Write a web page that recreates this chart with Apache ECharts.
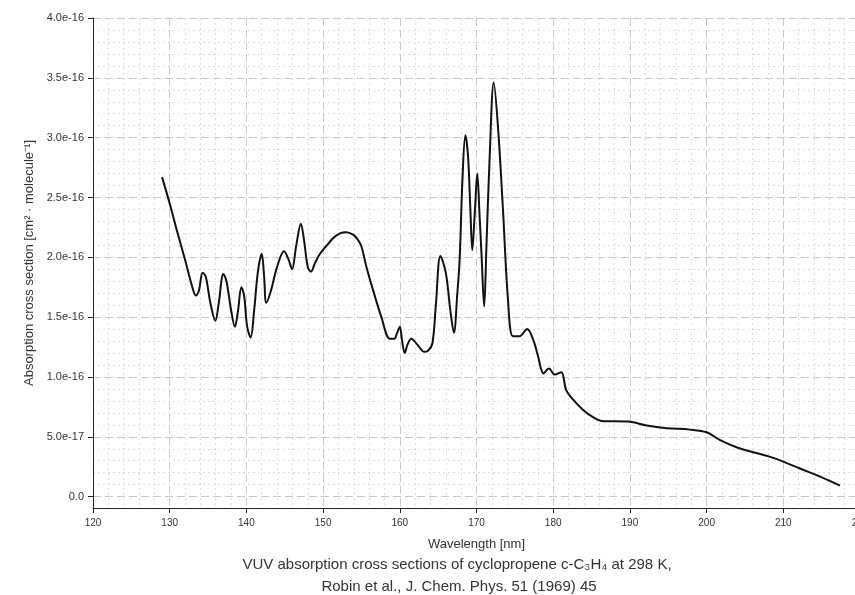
<!DOCTYPE html>
<html>
<head>
<meta charset="utf-8">
<script src="https://cdn.jsdelivr.net/npm/echarts@6/dist/echarts.min.js"></script>
<style>
html,body{margin:0;padding:0;background:#fff;}
#chart{width:855px;height:595px;}
</style>
</head>
<body>
<div id="chart"></div>
<script>
// Wavelength [nm]
const wavelengths = [
  129.0, 130.0, 131.0, 132.0, 133.0, 133.4, 133.8, 134.3, 134.7, 135.3,
  135.95, 136.4, 137.0, 137.4, 138.0, 138.5, 138.9, 139.35, 139.7, 140.1,
  140.55, 141.0, 141.5, 142.0, 142.3, 142.6, 143.2, 144.0, 144.9, 145.5,
  145.95, 146.5, 147.1, 147.5, 148.0, 148.4, 149.0, 149.6, 150.5, 151.3,
  152.2, 153.0, 153.9, 154.5, 155.0, 155.65, 156.5, 157.6, 158.7, 159.3,
  159.6, 160.0, 160.3, 160.65, 161.0, 161.5, 162.3, 163.2, 163.7, 164.25,
  164.7, 165.3, 166.0, 166.6, 167.05, 167.5, 167.8, 168.2, 168.55, 168.9,
  169.2, 169.45, 169.8, 170.1, 170.4, 170.65, 171.0, 171.3, 171.7, 172.25,
  172.8, 173.45, 174.1, 174.75, 175.6, 176.6, 177.4, 178.0, 178.75, 179.45,
  180.2, 181.05, 181.7, 182.6, 183.9, 185.2, 186.3, 189.8, 192.2, 194.8,
  197.8, 200.0, 201.7, 203.9, 206.1, 208.2, 210.0, 212.1, 214.8, 217.4
];
// Absorption cross section [cm^2 molecule^-1]
const crossSections = [
  2.67e-16, 2.45e-16, 2.21e-16, 1.98e-16, 1.74e-16, 1.68e-16, 1.72e-16, 1.87e-16, 1.84e-16, 1.62e-16,
  1.47e-16, 1.62e-16, 1.86e-16, 1.80e-16, 1.56e-16, 1.42e-16, 1.55e-16, 1.75e-16, 1.68e-16, 1.42e-16,
  1.33e-16, 1.55e-16, 1.88e-16, 2.03e-16, 1.85e-16, 1.62e-16, 1.72e-16, 1.92e-16, 2.05e-16, 1.98e-16,
  1.90e-16, 2.10e-16, 2.28e-16, 2.15e-16, 1.92e-16, 1.88e-16, 1.96e-16, 2.03e-16, 2.10e-16, 2.16e-16,
  2.20e-16, 2.21e-16, 2.19e-16, 2.15e-16, 2.09e-16, 1.92e-16, 1.73e-16, 1.50e-16, 1.32e-16, 1.32e-16,
  1.36e-16, 1.42e-16, 1.30e-16, 1.20e-16, 1.27e-16, 1.32e-16, 1.27e-16, 1.21e-16, 1.22e-16, 1.28e-16,
  1.60e-16, 2.01e-16, 1.87e-16, 1.55e-16, 1.37e-16, 1.70e-16, 1.98e-16, 2.70e-16, 3.02e-16, 2.84e-16,
  2.40e-16, 2.06e-16, 2.40e-16, 2.70e-16, 2.35e-16, 2.03e-16, 1.59e-16, 2.10e-16, 2.81e-16, 3.46e-16,
  3.09e-16, 2.40e-16, 1.65e-16, 1.34e-16, 1.34e-16, 1.40e-16, 1.31e-16, 1.18e-16, 1.03e-16, 1.07e-16,
  1.02e-16, 1.04e-16, 0.89e-16, 0.81e-16, 0.725e-16, 0.664e-16, 0.633e-16, 0.627e-16, 0.594e-16, 0.572e-16,
  0.560e-16, 0.538e-16, 0.474e-16, 0.413e-16, 0.371e-16, 0.334e-16, 0.293e-16, 0.237e-16, 0.167e-16, 0.092e-16
];
const xAxisName = 'Wavelength [nm]';
const yAxisName = 'Absorption cross section [cm\u00B2 \u00B7 molecule\u207B\u00B9]';
const captionLines = [
  'VUV absorption cross sections of cyclopropene c-C\u2083H\u2084 at 298 K,',
  'Robin et al., J. Chem. Phys. 51 (1969) 45'
];

const seriesData = wavelengths.map((w, i) => [w, crossSections[i]]);

const FONT = '"Liberation Sans", Arial, sans-serif';
const chart = echarts.init(document.getElementById('chart'), null, {renderer: 'canvas'});

function yFmt(v) {
  if (Math.abs(v) < 1e-30) return '0.0';
  return v.toExponential(1);
}

chart.setOption({
  animation: false,
  backgroundColor: '#ffffff',
  grid: {left: 93, top: 18, width: 767, bottom: 87, containLabel: false, outerBoundsMode: 'none'},
  xAxis: {
    type: 'value',
    min: 120, max: 220, interval: 10,
    name: xAxisName,
    nameLocation: 'middle',
    nameGap: 30,
    nameTextStyle: {color: '#333', fontSize: 13, fontFamily: FONT},
    axisLine: {show: true, onZero: false, lineStyle: {color: '#222', width: 1}},
    axisTick: {show: true, inside: false, length: 5, lineStyle: {color: '#222'}},
    axisLabel: {color: '#333', fontSize: 10, fontFamily: FONT, margin: 10},
    splitLine: {show: true, lineStyle: {color: '#c8c8c8', type: [8, 4], width: 1}},
    minorTick: {show: false, splitNumber: 5},
    minorSplitLine: {show: true, lineStyle: {color: '#dcdcdc', type: [2, 3], width: 1}}
  },
  yAxis: {
    type: 'value',
    min: -0.095e-16, max: 4.0e-16,
    minInterval: 0.5e-16, maxInterval: 0.5e-16,
    splitNumber: 8,
    name: yAxisName,
    nameLocation: 'middle',
    nameGap: 55,
    nameTextStyle: {color: '#333', fontSize: 13, fontFamily: FONT},
    axisLine: {show: true, lineStyle: {color: '#222', width: 1}},
    axisTick: {show: true, length: 5, lineStyle: {color: '#222'}},
    axisLabel: {color: '#333', fontSize: 11, fontFamily: FONT, margin: 9, formatter: yFmt, showMinLabel: false},
    splitLine: {show: true, lineStyle: {color: '#c8c8c8', type: [8, 4], width: 1}},
    minorTick: {show: false, splitNumber: 5},
    minorSplitLine: {show: true, lineStyle: {color: '#dcdcdc', type: [2, 3], width: 1}}
  },
  series: [{
    type: 'line',
    data: seriesData,
    smooth: 0.35,
    showSymbol: false,
    symbol: 'none',
    lineStyle: {color: '#111', width: 2},
    clip: true
  }],
  graphic: [
    {type: 'text', x: 457, y: 565,
     style: {text: captionLines[0], fill: '#333', font: '15px ' + FONT, textAlign: 'center', textVerticalAlign: 'middle'}},
    {type: 'text', x: 459, y: 587,
     style: {text: captionLines[1], fill: '#333', font: '15px ' + FONT, textAlign: 'center', textVerticalAlign: 'middle'}}
  ]
});
</script>
</body>
</html>
